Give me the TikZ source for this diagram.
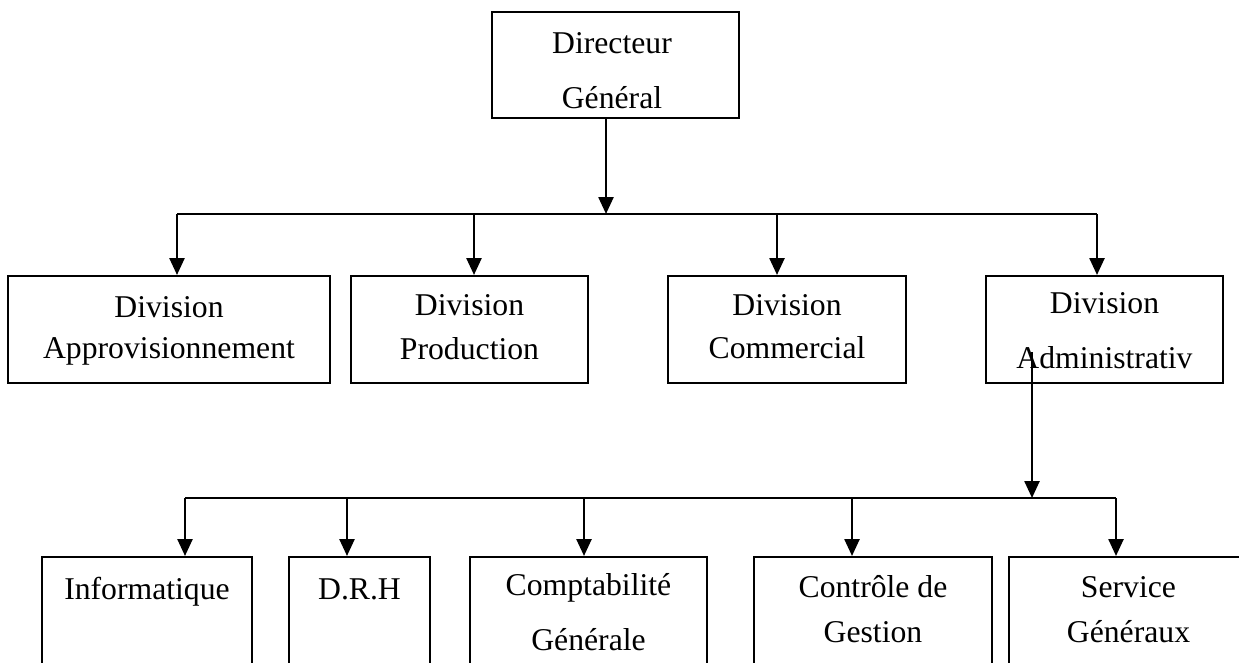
\documentclass[tikz,border=0pt]{standalone}
\usepackage{fontspec}
\setmainfont{Liberation Serif}
\usetikzlibrary{arrows.meta}
\begin{document}
\begin{tikzpicture}[x=1pt,y=-1pt,
  box/.style={draw, line width=2pt, inner sep=0pt},
  txt/.style={anchor=base, inner sep=0pt, font=\fontsize{31.7}{38}\selectfont},
  arr/.style={line width=2.5pt, -{Triangle[width=15pt,length=17pt]}},
  bar/.style={line width=2.5pt}]
\useasboundingbox (0,0) rectangle (1239,662);
\clip (0,0) rectangle (1239,662);
% boxes
\node[box, minimum width=247pt, minimum height=106pt] (dg) at (615.5,65) {};
\node[box, minimum width=322pt, minimum height=107pt] (d1) at (169,329.5) {};
\node[box, minimum width=237pt, minimum height=107pt] (d2) at (469.5,329.5) {};
\node[box, minimum width=238pt, minimum height=107pt] (d3) at (787,329.5) {};
\node[box, minimum width=237pt, minimum height=107pt] (d4) at (1104.5,329.5) {};
\node[box, minimum width=210pt, minimum height=163pt] (i1) at (147,638.5) {};
\node[box, minimum width=141pt, minimum height=163pt] (i2) at (359.5,638.5) {};
\node[box, minimum width=237pt, minimum height=163pt] (i3) at (588.5,638.5) {};
\node[box, minimum width=238pt, minimum height=163pt] (i4) at (873,638.5) {};
\node[box, minimum width=239pt, minimum height=163pt] (i5) at (1128.5,638.5) {};
% texts
\node[txt] (t0a) at (612,53) {Directeur};
\node[txt] (t0b) at (612,108) {Général};
\node[txt] (t1a) at (169,317) {Division};
\node[txt] (t1b) at (169,358) {Approvisionnement};
\node[txt] (t2a) at (469.5,315) {Division};
\node[txt] (t2b) at (469.5,359) {Production};
\node[txt] (t3a) at (787,315) {Division};
\node[txt] (t3b) at (787,358) {Commercial};
\node[txt] (t4a) at (1104.5,313) {Division};
\node[txt] (t4b) at (1104.5,368) {Administrativ};
\node[txt] (s1a) at (147,599) {Informatique};
\node[txt] (s2a) at (359.5,599) {D.R.H};
\node[txt] (s3a) at (588.5,595) {Comptabilité};
\node[txt] (s3b) at (588.5,650) {Générale};
\node[txt] (s4a) at (873,597) {Contrôle de};
\node[txt] (s4b) at (873,642) {Gestion};
\node[txt] (s5a) at (1128.5,597) {Service};
\node[txt] (s5b) at (1128.5,642) {Généraux};
% connectors, level 1
\coordinate (b0) at (606,214);
\coordinate (bl) at (177,214);
\coordinate (bm1) at (474,214);
\coordinate (bm2) at (777,214);
\coordinate (br) at (1097,214);
\draw[arr] (dg.south -| b0) -- (b0);
\draw[bar] (bl) -- (br);
\draw[arr] (bl) -- (bl |- d1.north);
\draw[arr] (bm1) -- (bm1 |- d2.north);
\draw[arr] (bm2) -- (bm2 |- d3.north);
\draw[arr] (br) -- (br |- d4.north);
% connectors, level 2
\coordinate (a0) at (1032,352);
\coordinate (a1) at (1032,498);
\coordinate (cl) at (185,498);
\coordinate (c2) at (347,498);
\coordinate (c3) at (584,498);
\coordinate (c4) at (852,498);
\coordinate (cr) at (1116,498);
\draw[arr] (a0) -- (a1);
\draw[bar] (cl) -- (cr);
\draw[arr] (cl) -- (cl |- i1.north);
\draw[arr] (c2) -- (c2 |- i2.north);
\draw[arr] (c3) -- (c3 |- i3.north);
\draw[arr] (c4) -- (c4 |- i4.north);
\draw[arr] (cr) -- (cr |- i5.north);
\end{tikzpicture}
\end{document}
